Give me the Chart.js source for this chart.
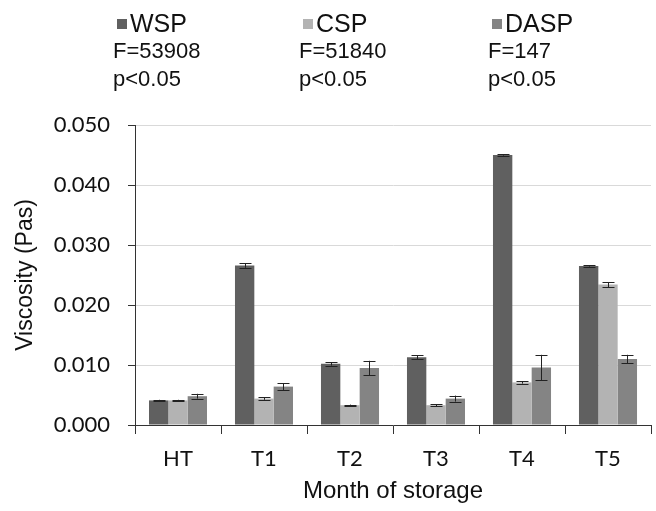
<!DOCTYPE html>
<html>
<head>
<meta charset="utf-8">
<script src="https://cdn.jsdelivr.net/npm/chart.js@4.4.1/dist/chart.umd.min.js"></script>
<style>
  html, body { margin: 0; padding: 0; background: #fff; }
  #wrap { position: relative; width: 656px; height: 511px; }
  .leg { position: absolute; font-family: "Liberation Sans", Arial, sans-serif; color: #111; }
  .leg .name { font-size: 25px; line-height: 28px; white-space: nowrap; }
  .leg .box { display: inline-block; width: 10px; height: 10px; margin-right: 3px; vertical-align: 3px; }
  .leg .stat { font-size: 22px; line-height: 28px; white-space: nowrap; }
</style>
</head>
<body>
<div id="wrap">
  <canvas id="viscChart" width="656" height="511"></canvas>
  <div id="legend"></div>
</div>
<script>
const months = ['HT', 'T1', 'T2', 'T3', 'T4', 'T5'];
const seriesNames = ['WSP', 'CSP', 'DASP'];
const fValues = ['F=53908', 'F=51840', 'F=147'];
const pValues = ['p<0.05', 'p<0.05', 'p<0.05'];

const wspValues = [0.0041, 0.0266, 0.0102, 0.0113, 0.0450, 0.0265];
const cspValues = [0.0041, 0.0044, 0.0033, 0.0033, 0.0071, 0.0234];
const daspValues = [0.0048, 0.0064, 0.0095, 0.0044, 0.0096, 0.0110];

const wspErrors = [0.0001, 0.0004, 0.0003, 0.0003, 0.0001, 0.0001];
const cspErrors = [0.0001, 0.0002, 0.0001, 0.0002, 0.0002, 0.0004];
const daspErrors = [0.0004, 0.0006, 0.0012, 0.0005, 0.0021, 0.0007];

const yTicks = [0, 0.01, 0.02, 0.03, 0.04, 0.05];

const colors = ['#606060', '#b3b3b3', '#848484'];
const legendLeft = [113, 299, 488];

// HTML legend with statistics
const legend = document.getElementById('legend');
seriesNames.forEach((name, i) => {
    const d = document.createElement('div');
    d.className = 'leg';
    d.style.left = legendLeft[i] + 'px';
    d.style.top = '9px';
    d.innerHTML =
        '<div class="name" style="margin-left:4px"><span class="box" style="background:' + colors[i] + '"></span>' + name + '</div>' +
        '<div class="stat">' + fValues[i] + '</div>' +
        '<div class="stat">' + pValues[i] + '</div>';
    legend.appendChild(d);
});

// error bars drawn from the scales
const errorBars = {
    id: 'errorBars',
    afterDatasetsDraw(chart) {
        const ctx = chart.ctx;
        const y = chart.scales.y;
        ctx.save();
        ctx.strokeStyle = '#222';
        ctx.lineWidth = 1;
        chart.data.datasets.forEach((ds, di) => {
            const meta = chart.getDatasetMeta(di);
            meta.data.forEach((bar, i) => {
                const v = ds.data[i], e = ds.errors[i];
                const top = y.getPixelForValue(v + e);
                const bot = y.getPixelForValue(v - e);
                const x = Math.round(bar.x) + 0.5;
                ctx.beginPath();
                ctx.moveTo(x, top); ctx.lineTo(x, bot);
                ctx.moveTo(x - 6, Math.round(top) + 0.5); ctx.lineTo(x + 6, Math.round(top) + 0.5);
                ctx.moveTo(x - 6, Math.round(bot) + 0.5); ctx.lineTo(x + 6, Math.round(bot) + 0.5);
                ctx.stroke();
            });
        });
        ctx.restore();
    }
};

const tickFont = { family: 'Lato', size: 22 };
const titleFont = { family: '"Liberation Sans", Arial', size: 24 };

new Chart(document.getElementById('viscChart').getContext('2d'), {
    type: 'bar',
    data: {
        labels: months,
        datasets: [
            { label: seriesNames[0], data: wspValues, errors: wspErrors, backgroundColor: colors[0] },
            { label: seriesNames[1], data: cspValues, errors: cspErrors, backgroundColor: colors[1] },
            { label: seriesNames[2], data: daspValues, errors: daspErrors, backgroundColor: colors[2] }
        ]
    },
    options: {
        responsive: false,
        animation: false,
        categoryPercentage: 0.675,
        barPercentage: 1,
        layout: { padding: { top: 125, right: 5, bottom: 0, left: 0 } },
        plugins: {
            legend: { display: false },
            tooltip: { enabled: false }
        },
        scales: {
            y: {
                min: 0,
                max: 0.05,
                afterBuildTicks: scale => { scale.ticks = yTicks.map(v => ({ value: v })); },
                afterFit: scale => { scale.width = 135; },
                border: { color: '#333', width: 1 },
                grid: { color: '#d9d9d9', tickColor: '#333', tickLength: 7 },
                ticks: {
                    color: '#111',
                    font: tickFont,
                    padding: 18,
                    callback: v => v.toFixed(3)
                },
                title: { display: true, text: 'Viscosity (Pas)', color: '#111', font: { family: '"Liberation Sans", Arial', size: 23 }, padding: { top: 12 } }
            },
            x: {
                afterFit: scale => { scale.height = 86; },
                border: { color: '#333', width: 1 },
                grid: { drawOnChartArea: false, offset: true, tickColor: '#333', tickLength: 9 },
                ticks: { color: '#111', font: tickFont, padding: 12 },
                title: { display: true, text: 'Month of storage', color: '#111', font: titleFont, padding: { bottom: 5 } }
            }
        }
    },
    plugins: [errorBars]
});
</script>
</body>
</html>
